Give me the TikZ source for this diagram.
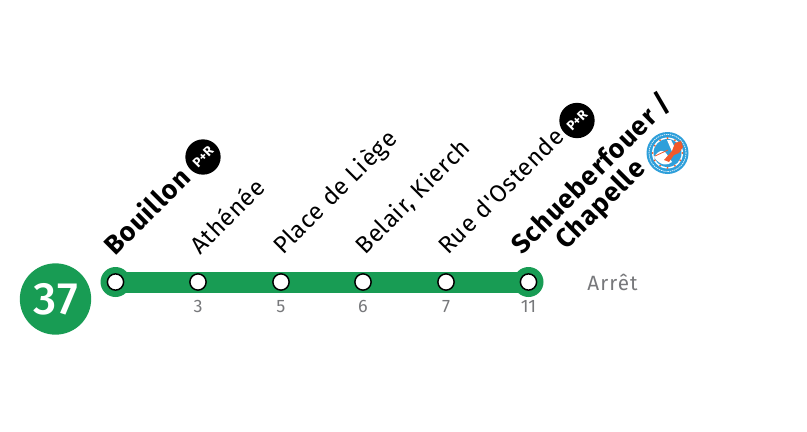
\documentclass[tikz,border=0pt]{standalone}
\usepackage{fontspec}
\setmainfont{Fira Sans}[Ligatures=TeXOff]
\definecolor{linegreen}{HTML}{189C54}
\definecolor{labelgray}{HTML}{77787B}
\definecolor{logoblue}{HTML}{2E9FDA}
\definecolor{logoorange}{HTML}{F15A2B}
\tikzset{
 px/.style={x=0.75pt,y=-0.75pt},
 stopdot/.style={circle,draw=black,fill=white,line width=1.1pt,minimum size=12.2pt,inner sep=0pt},
 stopname/.style={rotate=45,anchor=base west,inner sep=0pt,font=\fontsize{18}{21}\selectfont\addfontfeature{LetterSpace=3},text=black},
 bigname/.style={stopname,font=\fontsize{20}{22}\selectfont\bfseries\addfontfeature{LetterSpace=4}},
 pr/.style={circle,fill=black,minimum size=26.5pt,inner sep=0pt,text=white,font=\fontsize{10}{12}\selectfont\bfseries},
 tick/.style={text=labelgray,font=\fontsize{13.5}{14}\selectfont,inner sep=0pt,anchor=base},
}
\begin{document}
\begin{tikzpicture}[px]
\useasboundingbox (0,0) rectangle (807,432);
\fill[linegreen] (115.5,271.5) rectangle (528.5,293);
\fill[linegreen] (115.5,282) circle (15);
\fill[linegreen] (528.5,282) circle (15);
\node[circle,fill=linegreen,minimum size=53.5pt,inner sep=0pt,text=white,font=\fontsize{34}{36}\selectfont\fontspec{Fira Sans Medium}\addfontfeature{LetterSpace=3}] (line) at (55.5,299) {37};
\node[stopdot] (s1) at (115.5,282) {};
\node[stopdot] (s2) at (198,282) {};
\node[stopdot] (s3) at (281,282) {};
\node[stopdot] (s4) at (363,282) {};
\node[stopdot] (s5) at (446,282) {};
\node[stopdot] (s6) at (528.5,282) {};
\node[tick] (t2) at (198,312.5) {3};
\node[tick] (t3) at (281,312.5) {5};
\node[tick] (t4) at (363,312.5) {6};
\node[tick] (t5) at (446,312.5) {7};
\node[tick] (t6) at (528.5,312.5) {11};
\node[text=labelgray,font=\fontsize{15.5}{18}\selectfont\addfontfeature{LetterSpace=5},inner sep=0pt] (arret) at (612.5,282) {Arrêt};
\node[bigname] (n1) at (115,257) {Bouillon};
\node[stopname] (n2) at (200,256) {Athénée};
\node[stopname] (n3) at (283,256) {Place de Liège};
\node[stopname] (n4) at (365,256) {Belair, Kierch};
\node[stopname] (n5) at (448,256) {Rue d'Ostende};
\node[bigname] (n6) at (522,256) {Schueberfouer /};
\node[bigname] (n7) at (566,251) {Chapelle};
\node[pr] (pr1) at (203,157) {\rotatebox{45}{P+R}};
\node[pr] (pr2) at (577,120.5) {\rotatebox{45}{P+R}};
% fair logo
\fill[logoblue] (667.5,153) circle (21);
\draw[white,line width=0.5pt,dash pattern=on 1pt off 0.6pt] (667.5,153) circle (18.5);
\fill[white] (667.5,153) circle (15.5);
\fill[logoblue] (667.5,153) circle (14);
\foreach \a in {0,30,...,330}
  \fill[logoorange] (667.5,153) ++(\a:14.8) circle (1);
\fill[white] (654,157) .. controls (660,148) and (665,150) .. (668,156) -- (672,162) .. controls (668,166) and (660,166) .. (654,157) -- cycle;
\fill[white] (667,140) -- (671,140) -- (677,152) -- (673,154) -- cycle;
\fill[logoorange] (664,160) -- (672,151) -- (675,143) -- (681,141) -- (683,147) -- (679,153) -- (674,155) -- (669,162) -- cycle;
\draw[logoorange,line width=0.6pt] (655,156) -- (668,150);
\end{tikzpicture}
\end{document}
